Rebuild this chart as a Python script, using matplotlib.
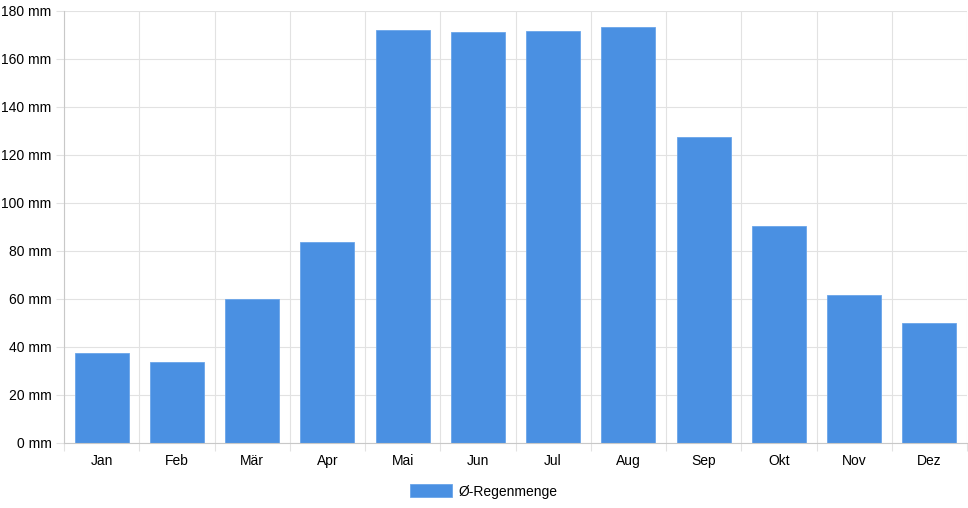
import matplotlib.pyplot as plt
import numpy as np

plt.rcParams["font.family"] = ["Liberation Sans", "DejaVu Sans"]

months = ["Jan", "Feb", "Mär", "Apr", "Mai", "Jun", "Jul", "Aug", "Sep", "Okt", "Nov", "Dez"]
rain_mm = [37.4, 33.6, 60.0, 83.7, 172.1, 171.4, 171.5, 173.2, 127.6, 90.5, 61.7, 50.1]
y_ticks = [0, 20, 40, 60, 80, 100, 120, 140, 160, 180]

BAR_COLOR = "#4a90e2"
GRID_COLOR = "#e2e2e2"

fig = plt.figure(figsize=(9.68, 5.08), dpi=100)
ax = fig.add_axes([64 / 968, 65 / 508, 903 / 968, 432 / 508])

x = np.arange(len(months))
ax.bar(x, rain_mm, width=0.72, color=BAR_COLOR, edgecolor="#6aa5ea", linewidth=0.6,
       label="Ø-Regenmenge", zorder=2)

ax.set_xlim(-0.5, len(months) - 0.5)
ax.set_ylim(0, 180)
ax.set_yticks(y_ticks)
ax.set_yticklabels([f"{v} mm" for v in y_ticks])
ax.set_xticks(x)
ax.set_xticklabels(months)
ax.set_xticks(np.arange(len(months) + 1) - 0.5, minor=True)

ax.tick_params(axis="x", which="major", length=0, pad=8, labelsize=10, colors="black")
ax.tick_params(axis="x", which="minor", length=6, color=GRID_COLOR, width=0.8)
ax.tick_params(axis="y", length=6, color=GRID_COLOR, width=0.8, pad=3, labelsize=10)

ax.grid(True, axis="y", which="major", color=GRID_COLOR, lw=0.8, zorder=0)
ax.grid(True, axis="x", which="minor", color=GRID_COLOR, lw=0.8, zorder=0)
ax.set_axisbelow(True)

for side in ["top", "right"]:
    ax.spines[side].set_visible(False)
ax.spines["left"].set_color("#c8c8c8")
ax.spines["bottom"].set_color("#c8c8c8")
ax.spines["left"].set_linewidth(0.8)
ax.spines["bottom"].set_linewidth(0.8)

fig.legend(loc="lower center", bbox_to_anchor=(0.5, -0.006), frameon=False, fontsize=10,
           handlelength=3.0, handleheight=1.1, handletextpad=0.5)

fig.savefig("out.png", dpi=100)
